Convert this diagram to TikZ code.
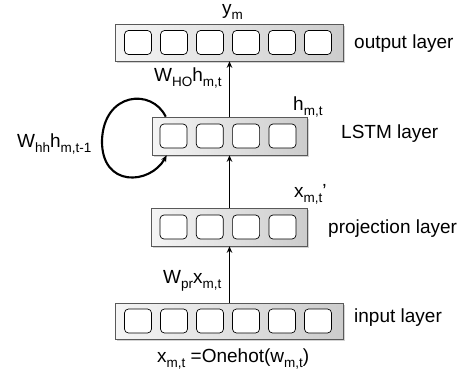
\documentclass[tikz,border=0pt]{standalone}
\usepackage{fontspec}
\setmainfont{Liberation Sans}
\usetikzlibrary{shadows,arrows.meta}
\newcommand\subs[1]{\raisebox{-5pt}{\fontsize{13.5}{14}\selectfont #1}}
\begin{document}
\begin{tikzpicture}[x=1pt,y=-1pt,
  layer/.style={draw=gray!70!black, line width=0.6pt, left color=gray!8, right color=gray!40,
    minimum height=37pt, inner sep=0,
    drop shadow={shadow xshift=1.5pt,shadow yshift=-1.5pt,opacity=0.35}},
  cell/.style={draw=black, line width=0.7pt, fill=white, rounded corners=4pt,
    minimum width=27pt, minimum height=24pt, inner sep=0},
  lbl/.style={inner sep=0, font=\fontsize{19}{22}\selectfont, anchor=base west},
  flow/.style={line width=1.9pt, -{Stealth[length=6.5pt,width=5.5pt]}}]
\useasboundingbox (0,0) rectangle (465,372);
% layers
\node[layer, minimum width=228pt] (out) at (229.5,42.5) {};
\node[layer, minimum width=155pt, minimum height=38pt] (lstm) at (229.5,136) {};
\node[layer, minimum width=156pt, minimum height=38pt] (proj) at (229.5,227) {};
\node[layer, minimum width=228pt, minimum height=36pt] (inp) at (229.5,321) {};
% cells
\foreach \i/\x in {1/138,2/174,3/210,4/246,5/282,6/318}{
  \node[cell] (out\i) at (\x,42.5) {};
  \node[cell] (inp\i) at (\x,321) {};
}
\foreach \i/\x in {1/173.5,2/209.8,3/246.1,4/282.5}{
  \node[cell] (lstm\i) at (\x,136) {};
  \node[cell] (proj\i) at (\x,227) {};
}
% connectors
\draw[flow] (inp.north) -- (proj.south);
\draw[flow] (proj.north) -- (lstm.south);
\draw[flow] (lstm.north) -- (out.south);
\draw[flow, line width=2.1pt] ([xshift=14pt]lstm.north west) .. controls (152,88) and (104,92) .. (102,140)
  .. controls (101,188) and (150,185) .. ([xshift=15pt]lstm.south west);
% labels
\node[lbl] (ym) at (222,14) {y\subs{m}};
\node[lbl] (who) at (154,81) {W\subs{HO}h\subs{m,t}};
\node[lbl] (hmt) at (293,110) {h\subs{m,t}};
\node[lbl] (whh) at (17,147) {W\subs{hh}h\subs{m,t-1}};
\node[lbl] (outl) at (354,48) {output layer};
\node[lbl] (lstml) at (341,138) {LSTM layer};
\node[lbl] (xp) at (294,197) {x\subs{m,t}’};
\node[lbl] (projl) at (328,233) {projection layer};
\node[lbl] (wpr) at (163,283) {W\subs{pr}x\subs{m,t}};
\node[lbl] (inpl) at (354,322) {input layer};
\node[lbl] (oneh) at (157,362) {x\subs{m,t} =Onehot(w\subs{m,t})};
\end{tikzpicture}
\end{document}
